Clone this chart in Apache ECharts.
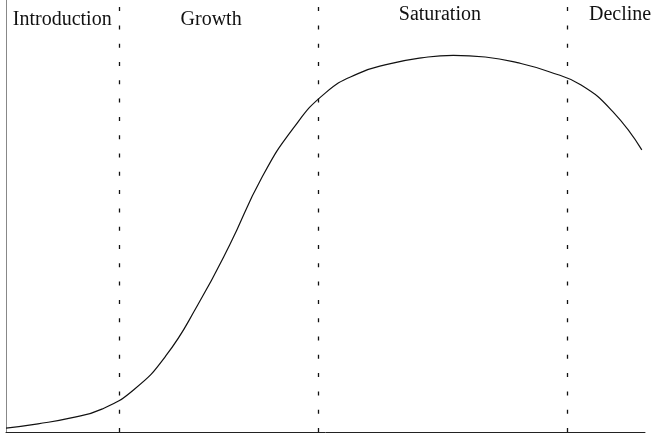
<!DOCTYPE html>
<html>
<head>
<meta charset="utf-8">
<script src="https://cdn.jsdelivr.net/npm/echarts@6/dist/echarts.min.js"></script>
<style>html,body{margin:0;padding:0;background:#fff;}#c{width:653px;height:434px;}</style>
</head>
<body>
<div id="c"></div>
<script>
// Product life cycle curve (time, sales) in relative units 0..100
const timeValues = [0, 5, 10, 15, 20, 25, 30, 35, 40, 45, 50, 55, 60, 65, 70, 75, 80, 85, 90, 95, 99.5];
const salesValues = [0.9, 1.9, 3.2, 5.3, 9.8, 17.6, 29.4, 43.3, 58.8, 70.4, 78.5, 82.9, 85.2, 86.6, 87.2, 86.8, 85.5, 83.4, 80.3, 74.1, 65.3];
// Phase boundaries (time)
const phaseBoundaries = [17.8, 48.8, 87.8];
// Phase names and their label anchors (time, level)
const phaseNames = ["Introduction", "Growth", "Saturation", "Decline"];
const phaseLabelTime = [8.8, 32.1, 67.9, 96.1];
const phaseLabelLevel = [95.4, 95.4, 96.5, 96.5];

const chart = echarts.init(document.getElementById('c'), null, {renderer: 'canvas'});
const curve = timeValues.map((t, i) => [t, salesValues[i]]);
const font = '"Liberation Serif", "DejaVu Serif", serif';
chart.setOption({
  animation: false,
  backgroundColor: '#fff',
  grid: {left: 6, right: 8, top: 0, bottom: 2},
  xAxis: {
    type: 'value', min: 0, max: 100,
    axisLine: {show: true, onZero: false, lineStyle: {color: '#222', width: 1}},
    axisTick: {show: false}, axisLabel: {show: false}, splitLine: {show: false}
  },
  yAxis: {
    type: 'value', min: 0, max: 100,
    axisLine: {show: true, onZero: false, lineStyle: {color: '#888', width: 1}},
    axisTick: {show: false}, axisLabel: {show: false}, splitLine: {show: false}
  },
  series: [{
    type: 'line',
    data: curve,
    smooth: 0.5,
    showSymbol: false,
    symbol: 'none',
    lineStyle: {color: '#111', width: 1.2},
    markLine: {
      silent: true,
      symbol: ['none', 'none'],
      label: {show: false},
      lineStyle: {color: '#111', width: 1.3, type: [4, 14.3]},
      data: phaseBoundaries.map(b => ({xAxis: b}))
    },
    markPoint: {
      silent: true,
      symbol: 'circle', symbolSize: 0,
      label: {show: true, position: 'inside', color: '#111', fontFamily: font, fontSize: 20, fontWeight: 'normal'},
      data: phaseNames.map((n, i) => ({
        coord: [phaseLabelTime[i], phaseLabelLevel[i]],
        value: n,
        label: {formatter: n}
      }))
    }
  }]
});
</script>
</body>
</html>
